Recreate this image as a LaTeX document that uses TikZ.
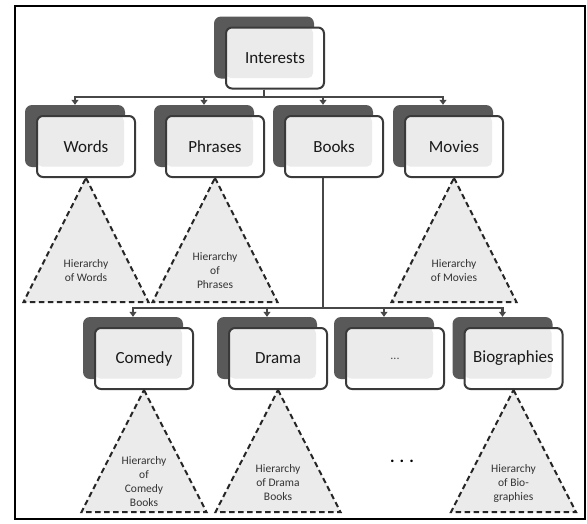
\documentclass[tikz,border=0pt]{standalone}
\usepackage{fontspec}
\setmainfont{Carlito}
\usetikzlibrary{arrows.meta,positioning}

\definecolor{backGray}{HTML}{595959}
\definecolor{edgeGray}{HTML}{3A3A3A}
\definecolor{paleGray}{HTML}{EBEBEB}
\definecolor{lineGray}{HTML}{474747}

\begin{document}
\begin{tikzpicture}[x=1pt,y=-1pt]
		\tikzstyle{backbox} = [rectangle,rounded corners=7pt,fill=backGray,minimum width=100pt,minimum height=62pt]
		\tikzstyle{frontbox} = [rectangle,rounded corners=6pt,draw=edgeGray,line width=2pt,fill=white,minimum width=98pt,minimum height=61pt,font=\fontsize{17}{18}\selectfont,text=black!90,
			path picture={\fill[paleGray,rounded corners=5pt] (path picture bounding box.north west) rectangle ([xshift=-11pt,yshift=10.5pt]path picture bounding box.south east);}]
		\tikzstyle{hier} = [fill=paleGray,draw=black!85,line width=2pt,dash pattern=on 5.5pt off 3.5pt,line join=miter]
		\tikzstyle{hiertext} = [align=center,font=\fontsize{11.5}{14}\selectfont,text=black!80]
		\tikzstyle{myarrow} = [-{Triangle[width=7pt,length=5pt]},line width=2.3pt,draw=lineGray]

		\useasboundingbox (0,0) rectangle (587,523);
		\draw [line width=2.4pt] (15,6) rectangle (585,519);

		% Top of the tree
		\node [backbox] (interestsB) at (264,47.5) {};
		\node [frontbox, xshift=11pt, yshift=-10.5pt] (interests) at (interestsB) {Interests};

		% First level
		\node [backbox] (wordsB) at (75,136) {};
		\node [backbox] (phrasesB) at (204,136) {};
		\node [backbox] (booksB) at (323,136) {};
		\node [backbox] (moviesB) at (443,136) {};
		\node [frontbox, xshift=11pt, yshift=-10.5pt] (words) at (wordsB) {Words};
		\node [frontbox, xshift=11pt, yshift=-10.5pt] (phrases) at (phrasesB) {Phrases};
		\node [frontbox, xshift=11pt, yshift=-10.5pt] (books) at (booksB) {Books};
		\node [frontbox, xshift=11pt, yshift=-10.5pt] (movies) at (moviesB) {Movies};

		% Second level, below books
		\node [backbox] (comedyB) at (133,348) {};
		\node [backbox] (dramaB) at (267,348) {};
		\node [backbox] (moreB) at (384,348) {};
		\node [backbox] (biosB) at (502.5,348) {};
		\node [frontbox, xshift=11pt, yshift=-10.5pt] (comedy) at (comedyB) {Comedy};
		\node [frontbox, xshift=11pt, yshift=-10.5pt] (drama) at (dramaB) {Drama};
		\node [frontbox, xshift=11pt, yshift=-10.5pt, font=\fontsize{12}{14}\selectfont, text=black!70] (more) at (moreB) {...};
		\node [frontbox, xshift=11pt, yshift=-10.5pt] (bios) at (biosB) {Biographies};

		% Hierarchies
		\draw [hier] (words.south) -- ++(62.5,124) -- ++(-125,0) -- cycle;
		\draw [hier] (phrases.south) -- ++(62.5,124) -- ++(-125,0) -- cycle;
		\draw [hier] (movies.south) -- ++(62.5,124) -- ++(-125,0) -- cycle;
		\draw [hier] (comedy.south) -- ++(62.5,122) -- ++(-125,0) -- cycle;
		\draw [hier] (drama.south) -- ++(62.5,122) -- ++(-125,0) -- cycle;
		\draw [hier] (bios.south) -- ++(62.5,122) -- ++(-125,0) -- cycle;
		\node [hiertext] (wordsH) at ([yshift=-93pt]words.south) {Hierarchy\\of Words};
		\node [hiertext] (phrasesH) at ([yshift=-93pt]phrases.south) {Hierarchy\\of\\Phrases};
		\node [hiertext] (moviesH) at ([yshift=-93pt]movies.south) {Hierarchy\\of Movies};
		\node [hiertext] (comedyH) at ([yshift=-92pt]comedy.south) {Hierarchy\\of\\Comedy\\Books};
		\node [hiertext] (dramaH) at ([yshift=-93pt]drama.south) {Hierarchy\\of Drama\\Books};
		\node [hiertext] (biosH) at ([yshift=-93pt]bios.south) {Hierarchy\\of Bio-\\graphies};
		\node [font=\bfseries\fontsize{17}{17}\selectfont] (moreH) at (402,461) {. . .};

		% Connectors
		\draw [myarrow] (interestsB |- interests.south) |- ([yshift=8pt]wordsB.north) -- (wordsB.north);
		\draw [myarrow] (interestsB |- interests.south) |- ([yshift=8pt]phrasesB.north) -- (phrasesB.north);
		\draw [myarrow] (interestsB |- interests.south) |- ([yshift=8pt]booksB.north) -- (booksB.north);
		\draw [myarrow] (interestsB |- interests.south) |- ([yshift=8pt]moviesB.north) -- (moviesB.north);
		\draw [myarrow] (booksB |- books.south) |- ([yshift=9pt]comedyB.north) -- (comedyB.north);
		\draw [myarrow] (booksB |- books.south) |- ([yshift=9pt]dramaB.north) -- (dramaB.north);
		\draw [myarrow] (booksB |- books.south) |- ([yshift=9pt]moreB.north) -- (moreB.north);
		\draw [myarrow] (booksB |- books.south) |- ([yshift=9pt]biosB.north) -- (biosB.north);
\end{tikzpicture}
\end{document}
